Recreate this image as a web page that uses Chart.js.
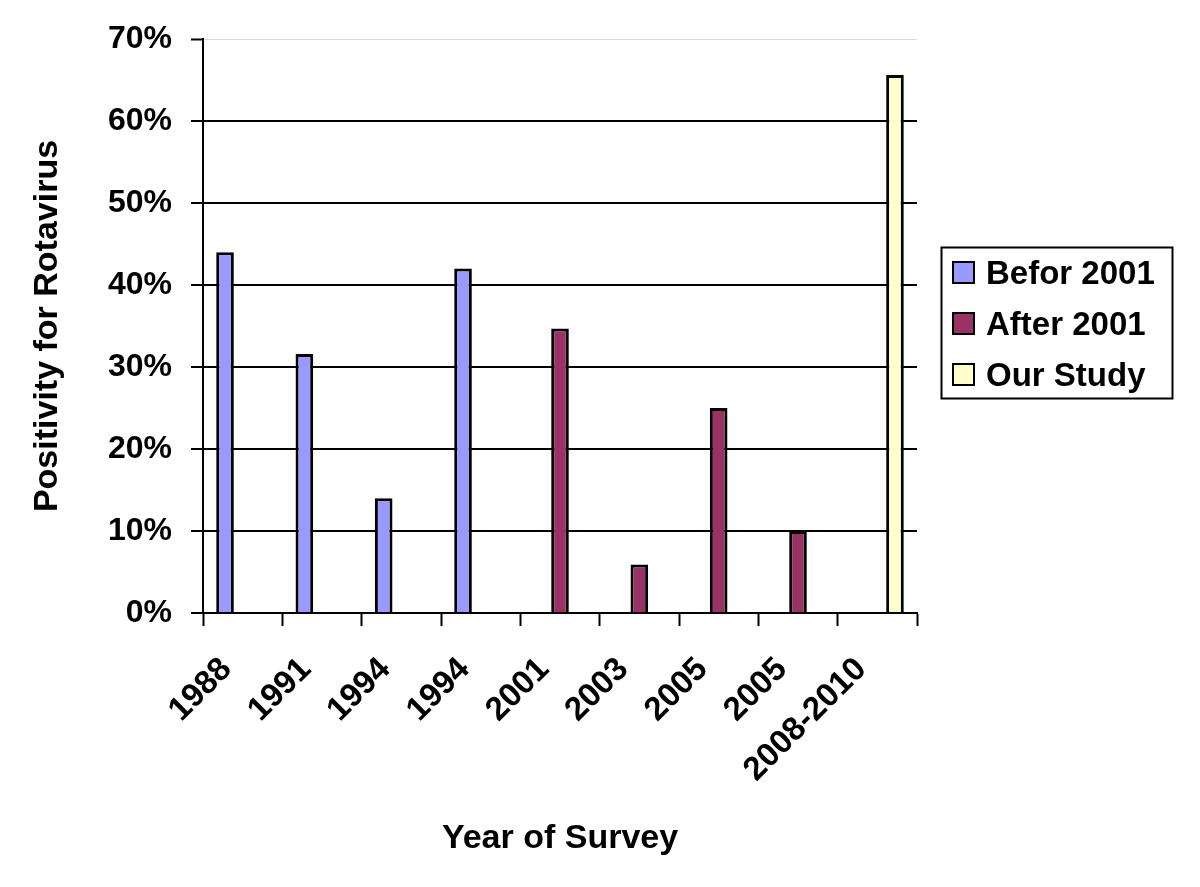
<!DOCTYPE html>
<html>
<head>
<meta charset="utf-8">
<script src="https://cdn.jsdelivr.net/npm/chart.js@4.4.1/dist/chart.umd.min.js"></script>
<style>
  html, body { margin: 0; padding: 0; background: #fff; }
  #wrap { width: 1200px; height: 887px; }
</style>
</head>
<body>
<div id="wrap"><canvas id="chart"></canvas></div>
<script>
// Survey years (two surveys share 1994 and 2005)
const categories = ['1988', '1991', '1994', '1994', '2001', '2003', '2005', '2005', '2008-2010'];

// Positivity for rotavirus, percent
const beforeValues = [44, 31.6, 14, 42, null, null, null, null, null];
const afterValues = [null, null, null, null, 34.7, 5.9, 25, 10, null];
const ourValues = [null, null, null, null, null, null, null, null, 65.6];

const seriesNames = ['Befor 2001', 'After 2001', 'Our Study'];
const seriesColors = ['#9999ff', '#993366', '#ffffcc'];

const FONT = "'Liberation Sans', Arial, Helvetica, sans-serif";

// Framed legend to the right of the plot, like the Excel original
const boxLegend = {
  id: 'boxLegend',
  afterDraw(chart) {
    const ctx = chart.ctx;
    const left = 941, top = 247, w = 231, h = 151;
    ctx.save();
    ctx.lineWidth = 2;
    ctx.strokeStyle = '#000';
    ctx.strokeRect(left + 0.5, top + 0.5, w, h);
    ctx.font = 'bold 33px ' + FONT;
    ctx.textBaseline = 'middle';
    chart.data.datasets.forEach((ds, i) => {
      const cy = 273 + i * 51;
      ctx.fillStyle = ds.backgroundColor;
      ctx.fillRect(953, cy - 11, 21, 21);
      ctx.strokeRect(953, cy - 11, 21, 21);
      ctx.fillStyle = '#000';
      ctx.fillText(ds.label, 986, cy + 2);
    });
    ctx.restore();
  }
};

new Chart(document.getElementById('chart'), {
  type: 'bar',
  data: {
    labels: categories,
    datasets: [beforeValues, afterValues, ourValues].map((vals, i) => ({
      label: seriesNames[i],
      data: vals,
      backgroundColor: seriesColors[i],
      borderColor: '#000',
      borderWidth: 3,
      borderSkipped: 'bottom',
      categoryPercentage: 0.667,
      barPercentage: 1.0
    }))
  },
  options: {
    responsive: true,
    maintainAspectRatio: false,
    animation: false,
    layout: {
      padding: { left: 0, right: 283, top: 39, bottom: 0 }
    },
    plugins: {
      legend: { display: false },
      tooltip: { enabled: false }
    },
    scales: {
      x: {
        offset: true,
        grid: {
          drawOnChartArea: false,
          drawTicks: true,
          tickLength: 13,
          tickColor: '#000',
          tickWidth: 2,
          offset: true
        },
        border: { color: '#000', width: 2 },
        ticks: {
          color: '#000',
          minRotation: 45,
          maxRotation: 45,
          autoSkip: false,
          padding: 24,
          labelOffset: -16,
          font: { family: FONT, size: 33, weight: 'bold' }
        },
        title: {
          display: true,
          text: 'Year of Survey',
          color: '#000',
          padding: { top: 0, bottom: 28 },
          font: { family: FONT, size: 34, weight: 'bold' }
        },
        afterFit(scale) { scale.height = 274; }
      },
      y: {
        min: 0,
        max: 70,
        ticks: {
          stepSize: 10,
          color: '#000',
          padding: 19,
          font: { family: FONT, size: 32, weight: 'bold' },
          callback: v => v + '%'
        },
        grid: {
          color: c => (c.tick && c.tick.value === 70 ? '#d9d9d9' : '#000'),
          lineWidth: c => (c.tick && c.tick.value === 70 ? 1 : 2),
          tickLength: 12,
          tickColor: '#000',
          tickWidth: 2
        },
        border: { color: '#000', width: 2 },
        title: {
          display: true,
          text: 'Positivity for Rotavirus',
          color: '#000',
          padding: { top: 27, bottom: 0 },
          font: { family: FONT, size: 34, weight: 'bold' }
        },
        afterFit(scale) { scale.width = 203; }
      }
    }
  },
  plugins: [boxLegend]
});
</script>
</body>
</html>
